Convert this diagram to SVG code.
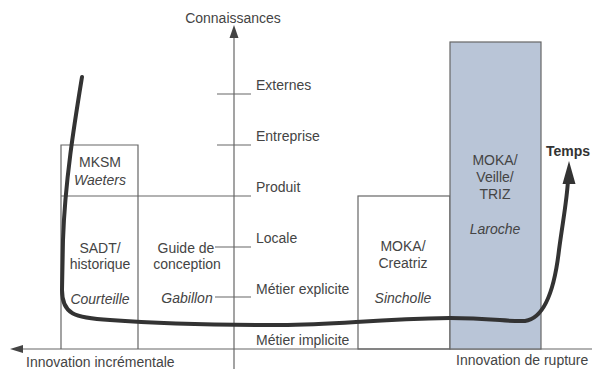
<svg xmlns="http://www.w3.org/2000/svg" width="592" height="369" viewBox="0 0 592 369">
<style>
text{font-family:"Liberation Sans",Arial,sans-serif;font-size:14px;fill:#444}
.m{text-anchor:middle}
.i{font-style:italic}
.b{font-weight:bold;fill:#333}
.ln{stroke:#666;stroke-width:1.2;fill:none}
.box{stroke:#666;stroke-width:1.2;fill:none}
</style>
<rect width="592" height="369" fill="#fff"/>
<g id="axes">
<line class="ln" x1="234" y1="369" x2="234" y2="34"/>
<polygon points="234,25 229.5,38 238.5,38" fill="#444"/>
<line class="ln" x1="18" y1="349" x2="592" y2="349"/>
<polygon points="10,349 23,345 23,353" fill="#444"/>
<line class="ln" x1="217" y1="94" x2="251" y2="94"/>
<line class="ln" x1="217" y1="145" x2="251" y2="145"/>
<line class="ln" x1="61" y1="196" x2="251" y2="196"/>
<line class="ln" x1="215" y1="247" x2="251" y2="247"/>
<line class="ln" x1="215" y1="297" x2="251" y2="297"/>
<text x="233" y="23" class="m">Connaissances</text>
<text x="256" y="90">Externes</text>
<text x="256" y="141">Entreprise</text>
<text x="256" y="192">Produit</text>
<text x="256" y="243">Locale</text>
<text x="256" y="294">Métier explicite</text>
<text x="256" y="345">Métier implicite</text>
<text x="26" y="367">Innovation incrémentale</text>
<text x="456" y="365">Innovation de rupture</text>
</g>
<g id="mksm">
<polyline class="box" points="61,349 61,145 138,145 138,349"/>
<text x="100" y="167" class="m">MKSM</text>
<text x="100" y="185" class="m i">Waeters</text>
</g>
<g id="sadt">
<text x="100" y="253" class="m">SADT/</text>
<text x="100" y="269" class="m">historique</text>
<text x="100" y="304" class="m i">Courteille</text>
</g>
<g id="guide">
<text x="186" y="253" class="m">Guide de</text>
<text x="187" y="269" class="m">conception</text>
<text x="187" y="303" class="m i">Gabillon</text>
</g>
<g id="creatriz">
<rect class="box" x="358" y="196" width="92" height="153"/>
<text x="403" y="251" class="m">MOKA/</text>
<text x="403" y="268" class="m">Creatriz</text>
<text x="403" y="303" class="m i">Sincholle</text>
</g>
<g id="triz">
<rect x="450" y="42" width="91" height="307" fill="#b9c5d7" stroke="#666" stroke-width="1.2"/>
<text x="495" y="165" class="m">MOKA/</text>
<text x="495" y="182" class="m">Veille/</text>
<text x="495" y="199" class="m">TRIZ</text>
<text x="495" y="234" class="m i">Laroche</text>
</g>
<g id="connectors">
<path d="M82,77 C75,120 65,180 63,240 L62,290 C62,314 74,318 110,320 C150,323 200,325 280,325 C340,325 370,319 450,318 C490,318 510,322 525,321 C546,318 555,285 559,250 C563,220 567,200 568,180" fill="none" stroke="#333" stroke-width="4" stroke-linecap="round"/>
<polygon points="569,161 562.5,184 575.5,184" fill="#333"/>
</g>
<g id="temps">
<text x="546" y="156" class="b">Temps</text>
</g>
</svg>
